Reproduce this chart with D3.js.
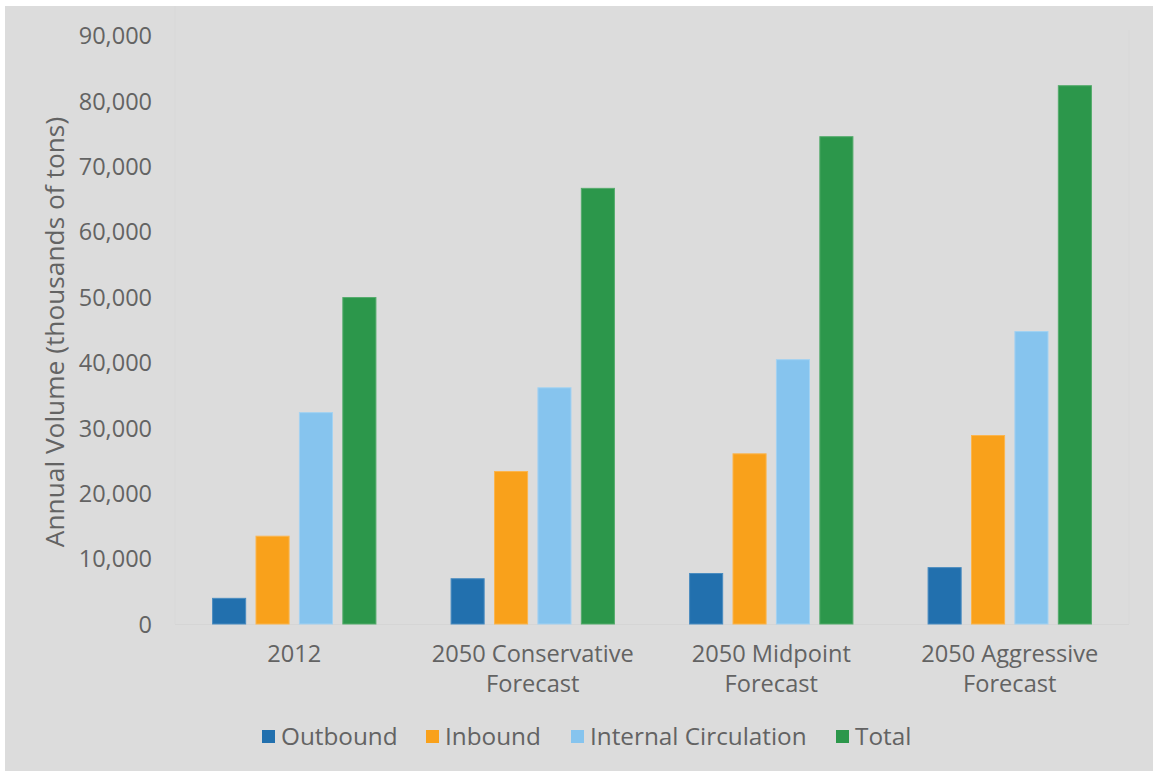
<!DOCTYPE html>
<html><head><meta charset="utf-8">
<script src="https://cdn.jsdelivr.net/npm/d3@7"></script>
<style>
html,body{margin:0;padding:0;background:#fff;}
text{font-family:"Open Sans","Noto Sans",sans-serif;fill:#636363;}
</style></head>
<body><svg id="chart" width="1153" height="771"></svg>
<script>
const categories = [["2012"], ["2050 Conservative","Forecast"], ["2050 Midpoint","Forecast"], ["2050 Aggressive","Forecast"]];
const seriesNames = ["Outbound", "Inbound", "Internal Circulation", "Total"];
const outbound = [4000, 7000, 7800, 8700];
const inbound = [13500, 23400, 26100, 28900];
const internal = [32400, 36200, 40500, 44800];
const total = [50000, 66700, 74600, 82400];
const yTicks = [0,10000,20000,30000,40000,50000,60000,70000,80000,90000];
const colors = ["#2270ae", "#f9a11b", "#86c4ee", "#2c974b"];
const strokes = ["#4a8cc0", "#fbb54d", "#a3d2f2", "#55ab6c"];
const seriesValues = [outbound, inbound, internal, total];

const svg = d3.select("#chart");
svg.append("rect").attr("x",5).attr("y",6).attr("width",1148).attr("height",765).attr("fill","#dcdcdc");

const pLeft=175, pRight=1129, pTop=35.5, pBottom=624;
const catKeys = categories.map(c=>c.join(" "));
const x0 = d3.scaleBand().domain(catKeys).range([pLeft,pRight]).paddingInner(0).paddingOuter(0);
const x1 = d3.scaleBand().domain(seriesNames).range([0,x0.bandwidth()]).paddingInner(0.215).paddingOuter(0.854);
const y = d3.scaleLinear().domain([0,90000]).range([pBottom,pTop]);

// faint plot area edges
svg.append("line").attr("x1",pLeft).attr("x2",pLeft).attr("y1",6).attr("y2",pBottom).attr("stroke","#d8d8d8");
svg.append("line").attr("x1",pRight).attr("x2",pRight).attr("y1",30).attr("y2",pBottom).attr("stroke","#d8d8d8");
svg.append("line").attr("x1",pLeft).attr("x2",pRight).attr("y1",pBottom+0.5).attr("y2",pBottom+0.5).attr("stroke","#d5d5d5");

// y axis
const yAxis = d3.axisLeft(y).tickValues(yTicks).tickSize(0).tickPadding(0).tickFormat(d3.format(","));
const gy = svg.append("g").attr("transform",`translate(152,0)`).call(yAxis);
gy.select(".domain").remove();
gy.selectAll("text").style("font-size","23.5px").attr("fill","#636363").attr("dy","0.35em").attr("x",0);

// bars
seriesNames.forEach((s,si)=>{
  svg.append("g").selectAll("rect").data(seriesValues[si]).join("rect")
    .attr("x",(d,i)=>x0(catKeys[i])+x1(s)+0.5)
    .attr("y",d=>y(d)+0.5)
    .attr("width",x1.bandwidth()-1)
    .attr("height",d=>pBottom-y(d)-0.5)
    .attr("fill",colors[si]).attr("stroke",strokes[si]).attr("stroke-width",1);
});

// x axis labels
const xAxis = d3.axisBottom(x0).tickSize(0).tickFormat("");
const gx = svg.append("g").attr("transform",`translate(0,${pBottom})`).call(xAxis);
gx.select(".domain").remove();
categories.forEach((lines,i)=>{
  const cx = x0(catKeys[i])+x0.bandwidth()/2;
  const t = svg.append("text").attr("x",cx).attr("y",662)
    .attr("text-anchor","middle").style("font-size","23.6px");
  lines.forEach((ln,j)=>t.append("tspan").attr("x",cx).attr("dy",j?30:0).text(ln));
});

// y title
svg.append("text").attr("transform","translate(64,332) rotate(-90)").attr("text-anchor","middle")
  .style("font-size","26.3px").text("Annual Volume (thousands of tons)");

// legend
const legendX = [262, 426, 571, 836];
seriesNames.forEach((s,i)=>{
  svg.append("rect").attr("x",legendX[i]).attr("y",730).attr("width",13).attr("height",13).attr("fill",colors[i]);
  svg.append("text").attr("x",legendX[i]+19).attr("y",745).style("font-size","24.3px").text(s);
});
</script></body></html>
